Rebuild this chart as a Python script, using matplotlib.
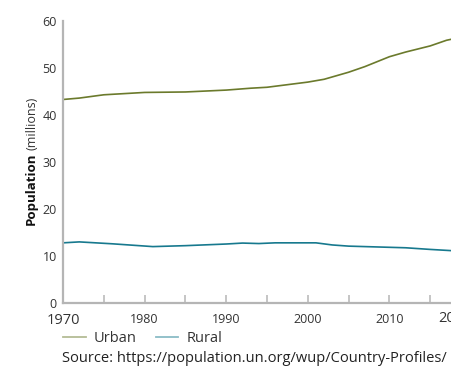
import matplotlib
matplotlib.use('Agg')
import matplotlib.pyplot as plt
from matplotlib.lines import Line2D

plt.rcParams.update({
    'font.family': ['Open Sans', 'DejaVu Sans'],
    'font.size': 9,
    'text.color': '#333333',
})

# UK urban / rural population (millions)
urban_years = [1970, 1972, 1975, 1980, 1985, 1990, 1993, 1995, 2000, 2002, 2005, 2007, 2010, 2012, 2015, 2017, 2020]
urban_pop = [43.3, 43.6, 44.3, 44.8, 44.9, 45.3, 45.7, 45.9, 47.0, 47.6, 49.1, 50.3, 52.4, 53.4, 54.7, 55.9, 57.0]

rural_years = [1970, 1972, 1976, 1981, 1985, 1990, 1992, 1994, 1996, 2001, 2003, 2005, 2009, 2012, 2015, 2018, 2020]
rural_pop = [12.8, 13.0, 12.6, 12.0, 12.2, 12.55, 12.75, 12.65, 12.8, 12.8, 12.35, 12.1, 11.9, 11.75, 11.4, 11.1, 10.9]

tick_years = list(range(1970, 2021, 5))
label_years = [1970, 1980, 1990, 2000, 2010]
end_label = '2020'
y_ticks = [0, 10, 20, 30, 40, 50, 60]

urban_color = '#6b7a2c'
rural_color = '#17798e'
spine_color = '#b5b5b5'


def main():
    fig = plt.figure(figsize=(4.51, 3.67), dpi=100)
    # plot area runs past the right edge of the image, as in the reference
    ax = fig.add_axes([63 / 451, 64 / 367, 408 / 451, 282 / 367])

    ax.plot(urban_years, urban_pop, color=urban_color, linewidth=1.2)
    ax.plot(rural_years, rural_pop, color=rural_color, linewidth=1.2)

    ax.set_xlim(1970, 2020)
    ax.set_ylim(0, 60)

    for side in ['top', 'right']:
        ax.spines[side].set_visible(False)
    for side in ['left', 'bottom']:
        ax.spines[side].set_color(spine_color)
        ax.spines[side].set_linewidth(1.6)

    ax.set_yticks(y_ticks)
    ax.tick_params(axis='y', length=0, pad=4.5, labelsize=9, labelcolor='#333333')

    ax.set_xticks(tick_years)
    ax.set_xticklabels([str(y) if y in label_years else '' for y in tick_years])
    ax.tick_params(axis='x', direction='in', length=6, width=1.1, color=spine_color,
                   pad=7, labelsize=9, labelcolor='#333333')
    for lbl in ax.get_xticklabels():
        if lbl.get_text() == '1970':
            lbl.set_fontsize(10.5)
    # last year label, cut by the image edge as in the reference
    fig.text(438 / 451, 1 - 319 / 367, end_label, fontsize=10.5, color='#333333',
             ha='left', va='center')

    # y label: bold "Population" followed by a smaller "(millions)"
    t1 = fig.text(31 / 451, 1 - 225 / 367, 'Population', rotation=90, fontsize=9.5,
                  fontweight='bold', color='#111111', ha='center', va='bottom')
    fig.canvas.draw()
    bb = t1.get_window_extent()
    fig.text(31 / 451 + 0.002, (bb.y1 + 3) / fig.bbox.height, '(millions)', rotation=90,
             fontsize=9, color='#333333', ha='center', va='bottom')

    handles = [
        Line2D([], [], color=urban_color, alpha=0.5, linewidth=1.3),
        Line2D([], [], color=rural_color, alpha=0.5, linewidth=1.3),
    ]
    fig.legend(handles, ['Urban', 'Rural'], loc='center left',
               bbox_to_anchor=(50 / 451, 1 - 339 / 367), ncol=2, frameon=False,
               handlelength=1.55, handletextpad=0.55, columnspacing=1.3, fontsize=10.5)

    fig.text(62 / 451, 1 - 358 / 367, 'Source: https://population.un.org/wup/Country-Profiles/',
             fontsize=10.5, color='#222222', ha='left', va='center')

    fig.savefig('out.png', dpi=100)


if __name__ == '__main__':
    main()
